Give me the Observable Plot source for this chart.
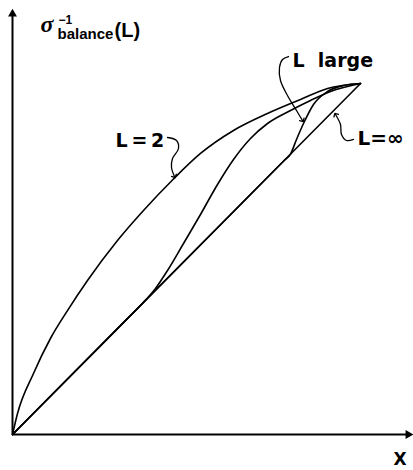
<!DOCTYPE html>
<html><head><meta charset="utf-8">
<script src="https://cdn.jsdelivr.net/npm/d3@7"></script>
<script src="https://cdn.jsdelivr.net/npm/@observablehq/plot@0.6"></script>
<style>
html,body{margin:0;padding:0;background:#fff;}
</style>
</head><body><div id="chart"></div>
<script>
// Curves (X, sigma^-1_balance) normalised so the common end point is (1,1)
const l2X = [0, 0.0144, 0.0603, 0.109, 0.158, 0.2155, 0.3017, 0.3764, 0.4626, 0.5402, 0.635, 0.7328, 0.8276, 0.9052, 1];
const l2Y = [0, 0.0598, 0.1738, 0.2735, 0.353, 0.4387, 0.5527, 0.6382, 0.728, 0.8006, 0.8661, 0.9145, 0.9544, 0.9858, 1];

const midX = [0, 0.2, 0.33, 0.3678, 0.4109, 0.4454, 0.4914, 0.5402, 0.5891, 0.6351, 0.6839, 0.7328, 0.7989, 0.8563, 0.9138, 1];
const midY = [0, 0.2, 0.33, 0.3675, 0.416, 0.4672, 0.5442, 0.6268, 0.7123, 0.7835, 0.8433, 0.886, 0.9231, 0.9516, 0.9772, 1];

const largeX = [0, 0.4, 0.78, 0.7989, 0.8161, 0.8362, 0.8649, 0.9052, 0.9511, 1];
const largeY = [0, 0.4, 0.78, 0.7989, 0.8405, 0.886, 0.9402, 0.9772, 0.9943, 1];

const infX = [0, 1];
const infY = [0, 1];

// Axis extents
const axisXEnd = [0, 1.1368];
const axisYEnd = [0, 1.198];

// Leader squiggles for labels
const leaderL2X = [0.4454, 0.4713, 0.477, 0.4598, 0.4569, 0.4655];
const leaderL2Y = [0.8462, 0.8376, 0.8148, 0.7863, 0.7607, 0.735];
const leaderLargeX = [0.7931, 0.7759, 0.7672, 0.7701, 0.7902, 0.8161, 0.8333];
const leaderLargeY = [1.0769, 1.0684, 1.0456, 1.0085, 0.9658, 0.9231, 0.8946];
const leaderInfX = [0.9799, 0.9598, 0.9454, 0.9425, 0.9282];
const leaderInfY = [0.8405, 0.8376, 0.8547, 0.8832, 0.9117];

// Labels
const curveLabels = [
  {text: "L\u2009=\u20092", x: 0.296, y: 0.8177},
  {text: "L  large", x: 0.8046, y: 1.0456}
];
const infLabel = [{text: "L=\u221E", x: 0.9914, y: 0.8234}];
const xLabel = [{text: "X", x: 1.0948, y: -0.0883}];
const ySigma = [{text: "\u03C3", x: 0.0805, y: 1.1481}];
const ySup = [{text: "\u22121", x: 0.1322, y: 1.1709}];
const ySub = [{text: "balance", x: 0.1293, y: 1.1254}];
const yArg = [{text: "(L)", x: 0.2931, y: 1.1311}];

const series = [
  {name: "L=2", x: l2X, y: l2Y},
  {name: "intermediate", x: midX, y: midY},
  {name: "L large", x: largeX, y: largeY},
  {name: "L=inf", x: infX, y: infY}
];
const rows = series.flatMap(s => s.x.map((x, i) => ({series: s.name, x, y: s.y[i]})));

const leaders = [
  {name: "l2", x: leaderL2X, y: leaderL2Y},
  {name: "large", x: leaderLargeX, y: leaderLargeY},
  {name: "inf", x: leaderInfX, y: leaderInfY}
];
const leaderRows = leaders.flatMap(s => s.x.map((x, i) => ({name: s.name, x, y: s.y[i]})));

const bold = "DejaVu Sans, Liberation Sans, sans-serif";
const arial = "Liberation Sans, Arial, sans-serif";

const chart = Plot.plot({
  width: 413,
  height: 470,
  margin: 0,
  x: {domain: [0, 1], range: [12, 360], axis: null},
  y: {domain: [0, 1], range: [434, 83], axis: null},
  style: {background: "#fff", color: "#000"},
  marks: [
    Plot.ruleY([{y: 0, x1: axisXEnd[0], x2: axisXEnd[1]}], {y: "y", x1: "x1", x2: "x2", stroke: "#000", strokeWidth: 2}),
    Plot.ruleX([{x: 0, y1: axisYEnd[0], y2: axisYEnd[1]}], {x: "x", y1: "y1", y2: "y2", stroke: "#000", strokeWidth: 2}),
    Plot.dot([{x: axisXEnd[1], y: 0}], {x: "x", y: "y", symbol: "triangle", rotate: 90, r: 3.3, fill: "#000", stroke: "none"}),
    Plot.dot([{x: 0, y: axisYEnd[1]}], {x: "x", y: "y", symbol: "triangle", r: 3.3, fill: "#000", stroke: "none"}),
    Plot.line(rows, {x: "x", y: "y", z: "series", curve: "monotone-x", stroke: "#000", strokeWidth: 1.6}),
    Plot.line(leaderRows, {x: "x", y: "y", z: "name", curve: "catmull-rom", stroke: "#000", strokeWidth: 1.3, markerEnd: "arrow"}),
    Plot.text(curveLabels, {x: "x", y: "y", text: "text", textAnchor: "start", lineAnchor: "bottom", fontSize: 19, fontWeight: "bold", fontFamily: bold, fill: "#000"}),
    Plot.text(infLabel, {x: "x", y: "y", text: "text", textAnchor: "start", lineAnchor: "bottom", fontSize: 20, fontWeight: "bold", fontFamily: bold, fill: "#000"}),
    Plot.text(xLabel, {x: "x", y: "y", text: "text", textAnchor: "start", lineAnchor: "bottom", fontSize: 17, fontWeight: "bold", fontFamily: bold, fill: "#000"}),
    Plot.text(ySigma, {x: "x", y: "y", text: "text", textAnchor: "start", lineAnchor: "bottom", fontSize: 24, fontStyle: "italic", fontWeight: "bold", fontFamily: "Liberation Serif, DejaVu Serif, serif", fill: "#000"}),
    Plot.text(ySup, {x: "x", y: "y", text: "text", textAnchor: "start", lineAnchor: "bottom", fontSize: 12, fontWeight: "bold", fontFamily: arial, fill: "#000"}),
    Plot.text(ySub, {x: "x", y: "y", text: "text", textAnchor: "start", lineAnchor: "bottom", fontSize: 15, fontWeight: "bold", fontFamily: arial, fill: "#000"}),
    Plot.text(yArg, {x: "x", y: "y", text: "text", textAnchor: "start", lineAnchor: "bottom", fontSize: 20, fontWeight: "bold", fontFamily: arial, fill: "#000"})
  ]
});
document.getElementById("chart").appendChild(chart);
</script>
</body></html>
